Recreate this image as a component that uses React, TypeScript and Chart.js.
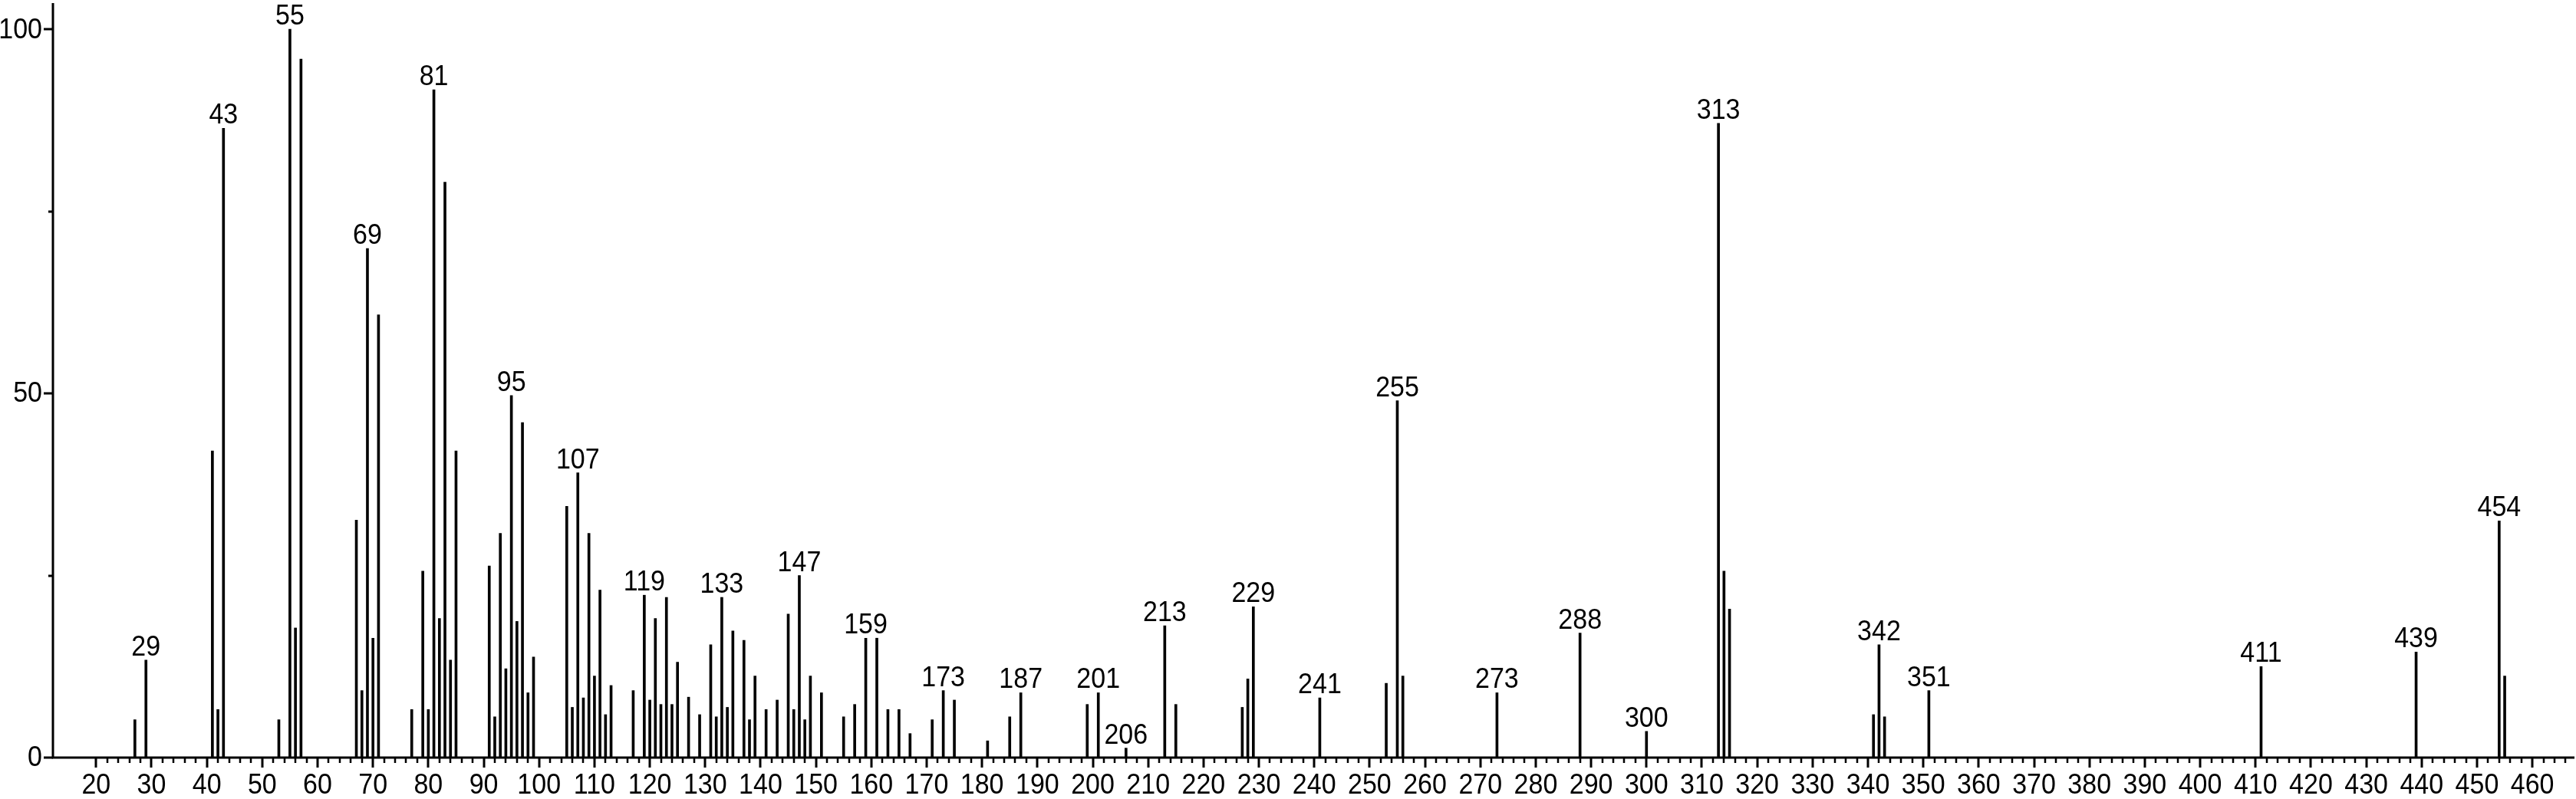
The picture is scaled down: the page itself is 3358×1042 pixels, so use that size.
import React, { useEffect, useRef } from "react";
import { Chart, registerables } from "chart.js";

Chart.register(...registerables);

// m/z values of the peaks
const massValues = [
  27, 29, 41, 42, 43, 53, 55, 56, 57, 67, 68, 69, 70, 71, 77, 79, 80, 81, 82, 83, 84, 85,
  91, 92, 93, 94, 95, 96, 97, 98, 99, 105, 106, 107, 108, 109, 110, 111, 112, 113, 117,
  119, 120, 121, 122, 123, 124, 125, 127, 129, 131, 132, 133, 134, 135, 137, 138, 139,
  141, 143, 145, 146, 147, 148, 149, 151, 155, 157, 159, 161, 163, 165, 167, 171, 173,
  175, 181, 185, 187, 199, 201, 206, 213, 215, 227, 228, 229, 241, 253, 255, 256, 273,
  288, 300, 313, 314, 315, 341, 342, 343, 351, 411, 439, 454, 455,
];

// relative intensities (%)
const intensityValues = [
  5.2, 13.4, 42.1, 6.6, 86.4, 5.2, 100, 17.8, 95.9, 32.6, 9.2, 69.9, 16.4, 60.8, 6.6, 25.6, 6.6, 91.7, 19.1, 79.0, 13.4, 42.1,
  26.3, 5.6, 30.8, 12.2, 49.7, 18.7, 46.0, 8.9, 13.8, 34.5, 6.9, 39.1, 8.2, 30.8, 11.2, 23.0, 5.9, 9.9, 9.2,
  22.3, 7.9, 19.1, 7.3, 22.0, 7.3, 13.1, 8.3, 5.9, 15.5, 5.6, 22.0, 6.9, 17.4, 16.1, 5.2, 11.2,
  6.6, 7.9, 19.7, 6.6, 25.0, 5.2, 11.2, 8.9, 5.6, 7.3, 16.4, 16.4, 6.6, 6.6, 3.3, 5.2, 9.2,
  7.9, 2.3, 5.6, 8.9, 7.3, 8.9, 1.3, 18.1, 7.3, 6.9, 10.8, 20.7, 8.2, 10.2, 49.0, 11.2, 8.9,
  17.1, 3.6, 87.1, 25.6, 20.4, 5.9, 15.5, 5.6, 9.2, 12.5, 14.5, 32.5, 11.2,
];

// peaks that carry an m/z annotation
const labelledPeaks = [
  29, 43, 55, 69, 81, 95, 107, 119, 133, 147, 159, 173, 187, 201, 206, 213, 229, 241,
  255, 273, 288, 300, 313, 342, 351, 411, 439, 454,
];

// axis ticks
const xTickValues = [
  20, 30, 40, 50, 60, 70, 80, 90, 100, 110, 120, 130, 140, 150, 160, 170, 180, 190, 200,
  210, 220, 230, 240, 250, 260, 270, 280, 290, 300, 310, 320, 330, 340, 350, 360, 370,
  380, 390, 400, 410, 420, 430, 440, 450, 460,
];
const xTickLabels = [
  "20", "30", "40", "50", "60", "70", "80", "90", "100", "110", "120", "130", "140", "150",
  "160", "170", "180", "190", "200", "210", "220", "230", "240", "250", "260", "270",
  "280", "290", "300", "310", "320", "330", "340", "350", "360", "370", "380", "390",
  "400", "410", "420", "430", "440", "450", "460",
];
const xMinorStep = 2;
const yTickValues = [0, 50, 100];
const yTickLabels = ["0", "50", "100"];
const yMinorTicks = [25, 75];

const X_MIN = 12.2;
const X_MAX = 467.6;
const Y_MAX = 103.6;

const FONT = '34px "Liberation Sans", Arial, sans-serif';
const TEXT_VSCALE = 1.1;

function drawText(ctx: CanvasRenderingContext2D, text: string, x: number, y: number) {
  ctx.save();
  ctx.translate(x, y);
  ctx.scale(1, TEXT_VSCALE);
  ctx.fillText(text, 0, 0);
  ctx.restore();
}

const axesPlugin = {
  id: "spectrumAxes",
  afterDraw(chart: any) {
    const ctx = chart.ctx;
    const xs = chart.scales.x;
    const ys = chart.scales.y;
    const area = chart.chartArea;
    const y0 = ys.getPixelForValue(0);
    ctx.save();
    ctx.strokeStyle = "#000";
    ctx.fillStyle = "#000";
    ctx.lineWidth = 3;
    // axis lines
    ctx.beginPath();
    ctx.moveTo(area.left, area.top);
    ctx.lineTo(area.left, y0);
    ctx.lineTo(area.right, y0);
    ctx.stroke();

    // x minor ticks
    ctx.lineWidth = 2.5;
    ctx.beginPath();
    for (let v = 20; v <= X_MAX; v += xMinorStep) {
      if (v % 10 === 0) continue;
      const px = Math.round(xs.getPixelForValue(v));
      ctx.moveTo(px, y0);
      ctx.lineTo(px, y0 + 7);
    }
    ctx.stroke();
    // x major ticks
    ctx.lineWidth = 3;
    ctx.beginPath();
    xTickValues.forEach((v) => {
      const px = Math.round(xs.getPixelForValue(v));
      ctx.moveTo(px, y0);
      ctx.lineTo(px, y0 + 13);
    });
    ctx.stroke();
    ctx.font = FONT;
    ctx.textAlign = "center";
    ctx.textBaseline = "alphabetic";
    xTickValues.forEach((v, i) => {
      const px = xs.getPixelForValue(v);
      drawText(ctx, xTickLabels[i], px, y0 + 47);
    });

    // y ticks
    ctx.lineWidth = 3;
    ctx.beginPath();
    yTickValues.forEach((v) => {
      const py = Math.round(ys.getPixelForValue(v));
      ctx.moveTo(area.left, py);
      ctx.lineTo(area.left - 12, py);
    });
    yMinorTicks.forEach((v) => {
      const py = Math.round(ys.getPixelForValue(v));
      ctx.moveTo(area.left, py);
      ctx.lineTo(area.left - 6, py);
    });
    ctx.stroke();
    ctx.textAlign = "right";
    ctx.textBaseline = "middle";
    yTickValues.forEach((v, i) => {
      const py = ys.getPixelForValue(v);
      drawText(ctx, yTickLabels[i], area.left - 14, py + 1);
    });

    // peak annotations
    const meta = chart.getDatasetMeta(0);
    ctx.textAlign = "center";
    ctx.textBaseline = "alphabetic";
    massValues.forEach((m, i) => {
      if (!labelledPeaks.includes(m)) return;
      const el = meta.data[i];
      drawText(ctx, String(m), el.x, el.y - 6);
    });
    ctx.restore();
  },
};

export default function App() {
  const canvasRef = useRef<HTMLCanvasElement | null>(null);

  useEffect(() => {
    document.body.style.margin = "0";
    const canvas = canvasRef.current;
    if (!canvas) return;
    const chart = new Chart(canvas, {
      type: "bar",
      data: {
        datasets: [
          {
            data: massValues.map((m, i) => ({ x: m, y: intensityValues[i] })),
            backgroundColor: "#000",
            borderWidth: 0,
            barThickness: 3,
          },
        ],
      },
      options: {
        responsive: false,
        animation: false,
        devicePixelRatio: 1,
        layout: { padding: { left: 69, right: 2, top: 4, bottom: 54 } },
        plugins: {
          legend: { display: false },
          tooltip: { enabled: false },
        },
        scales: {
          x: {
            type: "linear",
            min: X_MIN,
            max: X_MAX,
            offset: false,
            display: false,
            grid: { display: false },
          },
          y: {
            type: "linear",
            min: 0,
            max: Y_MAX,
            display: false,
            grid: { display: false },
          },
        },
      },
      plugins: [axesPlugin],
    });
    return () => chart.destroy();
  }, []);

  return (
    <div style={{ position: "absolute", left: 0, top: 0, width: 3358, height: 1042, background: "#fff" }}>
      <canvas ref={canvasRef} width={3358} height={1042} style={{ width: 3358, height: 1042 }} />
    </div>
  );
}
